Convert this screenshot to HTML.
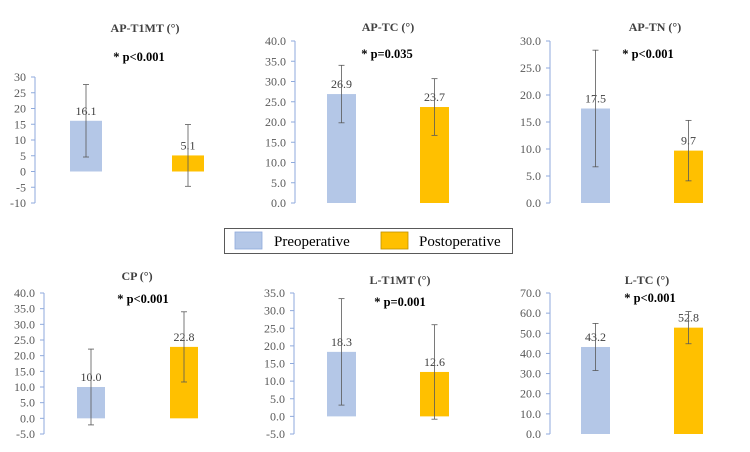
<!DOCTYPE html>
<html><head><meta charset="utf-8"><style>
body{margin:0;background:#fff;}
svg{display:block;font-family:"Liberation Serif",serif;}
</style></head><body>
<svg id="chart" width="750" height="452" viewBox="0 0 750 452"></svg>
<script>
const titles=["AP-T1MT (°)","AP-TC (°)","AP-TN (°)","CP (°)","L-T1MT (°)","L-TC (°)"];
const pValues=["* p<0.001","* p=0.035","* p<0.001","* p<0.001","* p=0.001","* p<0.001"];
const preValues=[16.1,26.9,17.5,10.0,18.3,43.2];
const postValues=[5.1,23.7,9.7,22.8,12.6,52.8];
const preErrors=[11.5,7.1,10.8,12.1,15.1,11.7];
const postErrors=[9.8,7.0,5.6,11.2,13.4,8.0];
const axisMin=[-10,0,0,-5,-5,0];
const axisMax=[30,40,30,40,35,70];
const axisStep=[5,5,5,5,5,10];
const tickDecimals=[0,1,1,1,1,1];
const seriesNames=["Preoperative","Postoperative"];

// layout (not data)
const layout=[
 {ax:35,top:77,bot:203,pre:70,post:172,bw:32,tx:145,ty:32,px:139,py:61},
 {ax:295,top:41,bot:203,pre:327,post:420,bw:29,tx:388,ty:31,px:387,py:58},
 {ax:550,top:41,bot:203,pre:581,post:674,bw:29,tx:655,ty:31,px:648,py:58},
 {ax:44,top:293,bot:434,pre:77,post:170,bw:28,tx:137,ty:280,px:143,py:303},
 {ax:294,top:293,bot:434,pre:327,post:420,bw:29,tx:400,ty:284,px:400,py:306},
 {ax:550,top:293,bot:434,pre:581,post:674,bw:29,tx:647,ty:284,px:650,py:302}
];
const colors=["#b4c7e7","#ffc000"];
const NS="http://www.w3.org/2000/svg";
const svg=document.getElementById('chart');
function mk(tag,attrs,parent){const e=document.createElementNS(NS,tag);for(const k in attrs)e.setAttribute(k,attrs[k]);(parent||svg).appendChild(e);return e;}

titles.forEach((t,i)=>{
  const L=layout[i];
  const g=mk('g',{});
  
  
  const y=v=>L.bot-(v-axisMin[i])/(axisMax[i]-axisMin[i])*(L.bot-L.top);
  const title=mk('text',{x:L.tx,y:L.ty,'text-anchor':'middle','font-size':12,'font-weight':'bold',fill:'#404040'},g);
  title.textContent=t;
  
  
  const pt=mk('text',{x:L.px,y:L.py,'text-anchor':'middle','font-size':12.5,'font-weight':'bold',fill:'#000'},g);
  pt.textContent=pValues[i];
  
  
  const axl=mk('line',{x1:L.ax,y1:y(axisMax[i]),x2:L.ax,y2:y(axisMin[i]),stroke:'#8faadc','stroke-width':1},g);
  
  
  for(let v=axisMin[i];v<=axisMax[i]+1e-9;v+=axisStep[i]){
    const yy=y(v);
    mk('line',{x1:L.ax-4,y1:yy,x2:L.ax,y2:yy,stroke:'#8faadc'},g);
    const tl=mk('text',{x:L.ax-9,y:yy+4,'text-anchor':'end','font-size':12,fill:'#595959'},g);
    tl.textContent=v.toFixed(tickDecimals[i]);
    
    
  }
  [[preValues[i],preErrors[i],L.pre,0],[postValues[i],postErrors[i],L.post,1]].forEach(([v,e,x,s])=>{
    const r=mk('rect',{x:x,y:Math.min(y(v),y(0)),width:L.bw,height:Math.abs(y(0)-y(v)),fill:colors[s]},g);
    
    
    const cx=x+L.bw/2;
    const vl=mk('text',{x:cx,y:y(v)-6,'text-anchor':'middle','font-size':12,fill:'#404040'},g);
    vl.textContent=v.toFixed(1);
    
    
    const eb=mk('g',{stroke:'#595959','stroke-width':0.8},g);
    
    
    mk('line',{x1:cx,y1:y(v+e),x2:cx,y2:y(v-e)},eb);
    mk('line',{x1:cx-3,y1:y(v+e),x2:cx+3,y2:y(v+e)},eb);
    mk('line',{x1:cx-3,y1:y(v-e),x2:cx+3,y2:y(v-e)},eb);
  });
});

// legend
const lg=mk('g',{});


mk('rect',{x:224.5,y:228.5,width:288,height:25,fill:'#fff',stroke:'#595959','stroke-width':1},lg);
const lx=[[235,274],[381,419]];
seriesNames.forEach((n,s)=>{
  const sw=mk('rect',{x:lx[s][0],y:232,width:27,height:17,fill:colors[s],stroke:s?'#bf9000':'#8faadc','stroke-width':0.8},lg);
  
  
  const t=mk('text',{x:lx[s][1],y:246,'font-size':15,fill:'#000'},lg);
  t.textContent=n;
  
  
});
</script>
</body></html>
